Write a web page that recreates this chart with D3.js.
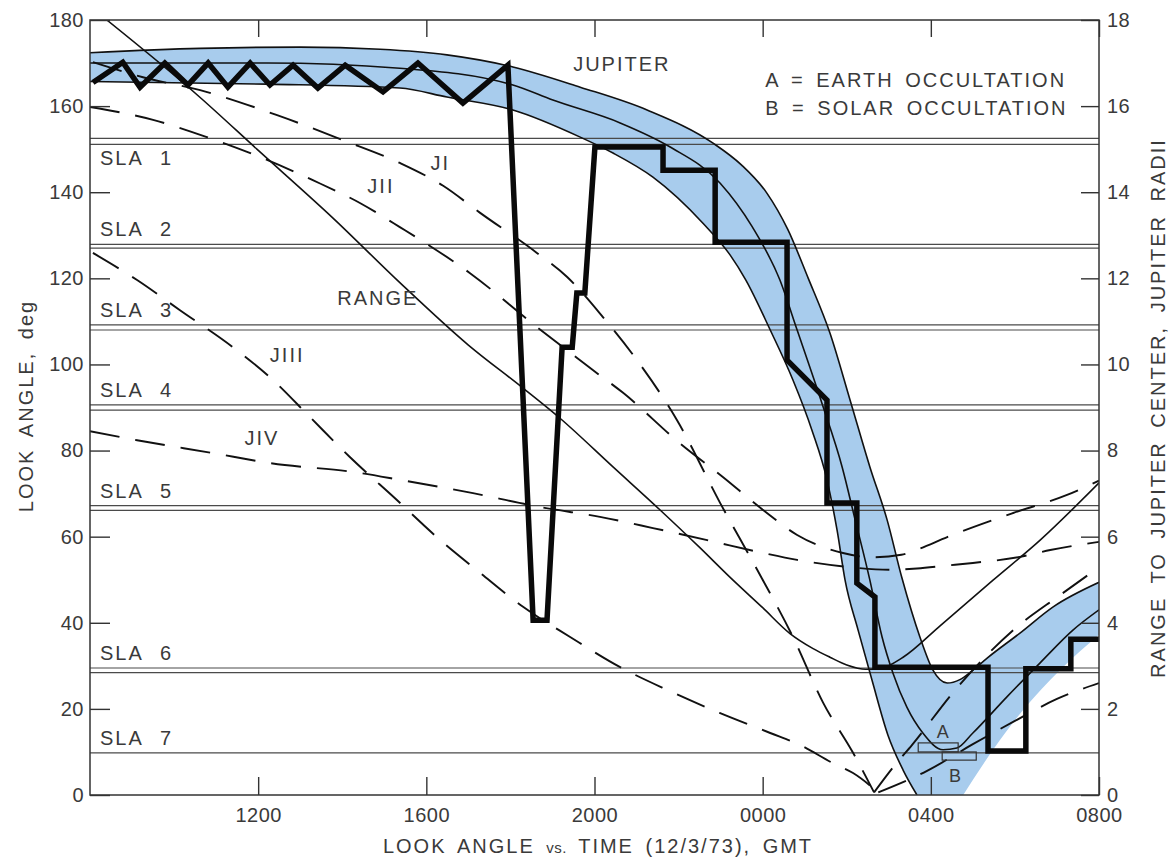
<!DOCTYPE html>
<html><head><meta charset="utf-8">
<script src="https://cdn.jsdelivr.net/npm/d3@7"></script>
<style>
body{margin:0;background:#fff;}
svg text{font-family:"Liberation Sans",Arial,Helvetica,sans-serif;fill:#3a3a3a;}
</style></head><body>
<svg id="chart" width="1168" height="858"></svg>
<script>
// ---------- DATA (time = hours after 0800 GMT 12/3/73, angle in deg, range in Jupiter radii) ----------
const xTickHours = [4, 8, 12, 16, 20, 24];
const xTickLabels = ["1200", "1600", "2000", "0000", "0400", "0800"];
const yTicksLeft = [0, 20, 40, 60, 80, 100, 120, 140, 160, 180];
const yTicksRight = [0, 2, 4, 6, 8, 10, 12, 14, 16, 18];

const slaNames = ["1", "2", "3", "4", "5", "6", "7"];
const slaAngles = [[152.5, 151.1], [127.9, 127.0], [109.2, 108.0], [90.6, 89.4], [67.2, 66.1], [29.5, 28.4], [9.8]];

const jupiterUpper = [[0,172.4],[2.62,173.4],[5.0,173.7],[6.9,173.2],[8.49,171.9],[10.06,169.1],[11.66,164.4],[13.25,159.1],[14.82,151.4],[15.5,146.3],[16.1,139.8],[16.6,131.3],[17.08,120.1],[17.6,107.3],[18.08,91.7],[18.55,76.2],[18.96,63.9],[19.31,50.5],[19.74,36.7],[20.05,29.0],[20.39,26.0],[20.69,26.8],[21.0,29.0],[21.34,31.8],[22.12,37.6],[22.91,43.7],[24,49.4]];
const jupiterCenter = [[0,170.0],[4.21,170.0],[7.37,168.8],[10.06,164.9],[11.01,161.4],[12.61,156.1],[13.8,150.5],[14.99,142.1],[15.75,132.0],[16.41,119.6],[16.82,108.0],[17.41,91.0],[17.89,76.2],[18.2,63.9],[18.55,49.9],[18.84,36.7],[19.1,28.3],[19.43,20.4],[19.81,14.4],[20.29,10.5],[20.62,10.9],[21.0,14.4],[21.81,22.8],[22.6,30.7],[23.38,38.3],[24,43.0]];
const jupiterLowerLeft = [[0,165.7],[4.21,165.1],[7.37,164.2],[8.49,162.1],[10.06,159.1],[11.66,152.8],[12.44,149.1],[13.39,143.5],[14.58,132.8],[15.22,125.5],[15.6,119.6],[16.18,108.0],[16.72,96.4],[17.17,84.8],[17.53,73.2],[17.77,61.5],[17.96,49.9],[18.27,38.3],[18.6,26.7],[18.98,13.9],[19.34,5.8],[19.67,0]];
const jupiterLowerRight = [[20.77,0],[21.48,10.5],[22.19,19.7],[23.07,29.0],[24,37.2]];

const coverageStep = [[0.07,165.5],[0.78,170.2],[1.19,164.4],[1.78,170.0],[2.33,164.9],[2.81,170.0],[3.28,164.4],[3.81,170.0],[4.28,164.9],[4.83,169.5],[5.42,164.2],[6.07,169.5],[6.97,163.3],[7.8,170.0],[8.87,160.7],[9.94,169.5],[10.54,40.6],[10.87,40.6],[11.23,104.0],[11.47,104.0],[11.58,116.6],[11.77,116.6],[12.01,150.5],[13.63,150.5],[13.63,145.1],[14.87,145.1],[14.87,128.4],[16.58,128.4],[16.58,101.0],[17.53,91.7],[17.53,67.8],[18.24,67.8],[18.24,49.2],[18.67,46.0],[18.67,29.7],[21.36,29.7],[21.36,10.2],[22.26,10.2],[22.26,29.3],[23.33,29.3],[23.33,36.2],[24,36.2]];

const rangeRj = [[0.40,18.00],[2.62,16.20],[3.97,15.00],[5.78,13.40],[7.37,11.90],[9.00,10.45],[10.30,9.45],[11.18,8.75],[12.44,7.62],[13.56,6.62],[14.50,5.75],[15.22,5.06],[16.00,4.35],[16.65,3.75],[17.20,3.40],[17.60,3.20],[18.00,3.02],[18.45,2.92],[18.80,2.94],[19.34,3.20],[20.22,3.93],[21.48,4.99],[22.60,5.92],[24.00,7.25]];

const jIDown = [[0.07,170.2],[1.26,166.7],[2.62,163.7],[4.45,157.9],[6.02,152.1],[7.37,146.8],[8.4,141.5],[9.28,135.2],[10.63,125.9],[11.35,120.3],[12.2,111.0],[13.01,101.0],[13.96,87.1],[14.99,67.8],[15.87,52.3],[16.72,36.7],[17.44,21.4],[18.15,9.8],[18.65,0.6]];
const jIUp = [[18.65,0.6],[19.15,7.0],[19.55,11.6],[20.58,24.4],[21.96,38.3],[23.07,46.4],[24,52.9]];
const jII = [[0,159.8],[1.5,156.8],[2.78,152.8],[4.04,148.2],[5.3,142.8],[6.42,137.5],[7.37,131.9],[9.04,121.2],[10.63,108.7],[11.96,98.7],[12.68,93.4],[14.03,81.7],[15.06,73.8],[16.01,66.2],[16.82,60.4],[17.91,56.2],[18.6,55.2],[19.3,55.8],[19.67,57.0],[20.39,59.9],[21.96,65.5],[23.24,69.7],[24,73.0]];
const jIIIDown = [[0.07,125.9],[1.12,119.6],[2.14,112.6],[3.4,104.0],[4.35,96.4],[5.23,87.8],[6.18,78.5],[7.3,68.5],[8.25,59.9],[9.28,51.6],[10.3,43.7],[11.42,36.7],[12.61,29.7],[13.73,24.4],[14.99,19.0],[16.18,14.4],[16.89,11.6],[17.67,7.4],[18.15,5.1],[18.75,0.6]];
const jIIIUp = [[18.75,0.6],[19.91,5.6],[21.0,11.8],[22.0,17.2],[23.0,22.3],[24,26.0]];
const jIV = [[0,84.5],[1.12,82.4],[2.93,79.4],[4.28,77.1],[6.42,74.8],[7.37,73.2],[9.11,70.1],[10.7,66.9],[12.13,64.6],[13.39,62.0],[14.68,59.2],[16.01,56.2],[16.82,54.6],[18.0,53.0],[19.0,52.3],[19.67,52.6],[20.39,53.3],[21.0,53.9],[22.12,55.3],[22.84,56.9],[24,58.8]];

// occultation boxes: [t0, t1, angle0, angle1]
const earthOccultation = [19.7, 20.65, 10.0, 12.1];
const solarOccultation = [20.27, 21.08, 8.1, 10.0];

// ---------- DRAWING ----------
const svg = d3.select("#chart");
const x = d3.scaleLinear().domain([0, 24]).range([90, 1099]);
const y = d3.scaleLinear().domain([0, 180]).range([795, 20]);
const yR = d3.scaleLinear().domain([0, 18]).range([795, 20]);

svg.append("defs").append("clipPath").attr("id", "plot")
  .append("rect").attr("x", 90).attr("y", 20).attr("width", 1009).attr("height", 775);
const plot = svg.append("g").attr("clip-path", "url(#plot)");

const smooth = d3.line().x(d => x(d[0])).y(d => y(d[1])).curve(d3.curveMonotoneX);
const straight = d3.line().x(d => x(d[0])).y(d => y(d[1]));
const under = d3.area().x(d => x(d[0])).y0(y(0)).y1(d => y(d[1])).curve(d3.curveMonotoneX);

// Jupiter band fill
plot.append("path").attr("d", under(jupiterUpper)).attr("fill", "#a8cced");
plot.append("path").attr("d", under(jupiterLowerLeft)).attr("fill", "#fff");
plot.append("path").attr("d", under(jupiterLowerRight)).attr("fill", "#fff");

// SLA double lines
slaAngles.forEach(pair => pair.forEach(a => {
  plot.append("line").attr("x1", x(0)).attr("x2", x(24)).attr("y1", y(a)).attr("y2", y(a))
    .attr("stroke", "#4a4a4a").attr("stroke-width", 1.2);
}));

// band lines
[jupiterUpper, jupiterCenter, jupiterLowerLeft].forEach(arr => {
  plot.append("path").attr("d", smooth(arr)).attr("fill", "none").attr("stroke", "#111").attr("stroke-width", 1.6);
});

// dashed satellite curves
[jIDown, jIUp, jII, jIIIDown, jIIIUp, jIV].forEach(arr => {
  plot.append("path").attr("d", smooth(arr)).attr("fill", "none").attr("stroke", "#111")
    .attr("stroke-width", 1.9).attr("stroke-dasharray", "30,16");
});

// range line (right axis)
const rangeLine = d3.line().x(d => x(d[0])).y(d => yR(d[1])).curve(d3.curveMonotoneX);
plot.append("path").attr("d", rangeLine(rangeRj)).attr("fill", "none").attr("stroke", "#111").attr("stroke-width", 1.6);

// coverage step line
plot.append("path").attr("d", straight(coverageStep)).attr("fill", "none").attr("stroke", "#0a0a0a")
  .attr("stroke-width", 5.5).attr("stroke-linejoin", "miter").attr("stroke-miterlimit", 3);

// occultation boxes
[earthOccultation, solarOccultation].forEach(b => {
  plot.append("rect").attr("x", x(b[0])).attr("y", y(b[3])).attr("width", x(b[1]) - x(b[0]))
    .attr("height", y(b[2]) - y(b[3])).attr("fill", "none").attr("stroke", "#333").attr("stroke-width", 1.2);
});

// frame
svg.append("rect").attr("x", 90).attr("y", 20).attr("width", 1009).attr("height", 775)
  .attr("fill", "none").attr("stroke", "#333").attr("stroke-width", 1.5);

// axes
function styleAxis(g) {
  g.select(".domain").remove();
  g.attr("font-family", "Liberation Sans, Arial, sans-serif").attr("font-size", 20).attr("color", "#333");
  g.selectAll(".tick line").attr("stroke-width", 1.4);
  g.selectAll("text").style("fill", "#3a3a3a").attr("letter-spacing", "0.5px");
}
svg.append("g").attr("transform", "translate(90,0)")
  .call(d3.axisLeft(y).tickValues(yTicksLeft).tickSize(-20).tickPadding(6)).call(styleAxis);
svg.append("g").attr("transform", "translate(1099,0)")
  .call(d3.axisRight(yR).tickValues(yTicksRight).tickSize(-18).tickPadding(8)).call(styleAxis);
svg.append("g").attr("transform", "translate(0,795)")
  .call(d3.axisBottom(x).tickValues(xTickHours).tickFormat((d, i) => xTickLabels[i]).tickSize(-18).tickPadding(13)).call(styleAxis);
svg.append("g").attr("transform", "translate(0,20)")
  .call(d3.axisTop(x).tickValues(xTickHours).tickFormat("").tickSize(-17)).call(styleAxis);

// SLA labels
slaAngles.forEach((pair, i) => {
  const yy = i === 0 ? y(pair[pair.length - 1]) + 21 : y(pair[0]) - 8;
  const t = svg.append("text").attr("y", yy).attr("font-size", 20).attr("letter-spacing", "2px");
  t.append("tspan").attr("x", 100).text("SLA");
  t.append("tspan").attr("x", 160).text(slaNames[i]);
});

// curve labels
function label(txt, h, a, anchor, size) {
  svg.append("text").attr("x", x(h)).attr("y", y(a)).attr("text-anchor", anchor)
    .attr("font-size", size).attr("letter-spacing", "2px").text(txt);
}
label("JUPITER", 12.65, 168.1, "middle", 20);
label("JI", 8.33, 145.1, "middle", 20);
label("JII", 6.92, 139.8, "middle", 20);
label("RANGE", 5.88, 113.8, "start", 20);
label("JIII", 4.69, 100.6, "middle", 20);
label("JIV", 4.09, 81.3, "middle", 20);
label("A", 20.31, 13.2, "middle", 18);
label("B", 20.6, 3.0, "middle", 18);

// legend text
svg.append("text").attr("x", x(16.06)).attr("y", y(164.4)).attr("font-size", 20)
  .attr("letter-spacing", "2px").attr("word-spacing", "4px").text("A = EARTH OCCULTATION");
svg.append("text").attr("x", x(16.06)).attr("y", y(157.9)).attr("font-size", 20)
  .attr("letter-spacing", "2px").attr("word-spacing", "4px").text("B = SOLAR OCCULTATION");

// axis titles
svg.append("text").attr("transform", "translate(33,406) rotate(-90)").attr("text-anchor", "middle")
  .attr("font-size", 20).attr("letter-spacing", "2px").attr("word-spacing", "5px").text("LOOK ANGLE, deg");
svg.append("text").attr("transform", "translate(1165,408) rotate(-90)").attr("text-anchor", "middle")
  .attr("font-size", 20).attr("letter-spacing", "2px").attr("word-spacing", "6px").text("RANGE TO JUPITER CENTER, JUPITER RADII");
const xt = svg.append("text").attr("x", 598).attr("y", 853).attr("text-anchor", "middle")
  .attr("font-size", 20).attr("letter-spacing", "2px").attr("word-spacing", "4px");
xt.append("tspan").text("LOOK ANGLE ");
xt.append("tspan").attr("font-size", 15).attr("letter-spacing", "0.5px").text("vs.");
xt.append("tspan").text(" TIME (12/3/73), GMT");
</script>
</body></html>
